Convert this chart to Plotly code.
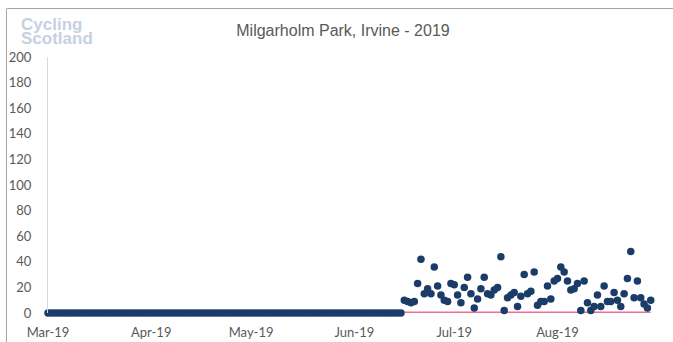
import pandas as pd
import plotly.graph_objects as go

# ---- data ----
zero_start = "2019-03-01"
zero_end = "2019-06-15"
count_start = "2019-06-16"
count_end = "2019-08-29"

zero_dates = pd.date_range(zero_start, zero_end, freq="D")
zero_values = [0] * len(zero_dates)

count_dates = pd.date_range(count_start, count_end, freq="D")
count_values = [10, 9, 8, 9, 23, 42, 15, 19, 15, 36,
                21, 14, 10, 9, 23, 22, 14, 8, 20, 28,
                15, 4, 11, 19, 28, 15, 14, 18, 20, 44,
                2, 12, 14, 16, 5, 13, 30, 15, 17, 32,
                6, 9, 9, 21, 11, 25, 27, 36, 32, 25,
                18, 19, 23, 2, 25, 8, 2, 5, 14, 5,
                21, 9, 9, 16, 10, 5, 15, 27, 48, 12,
                25, 12, 7, 4, 10]
baseline_values = [0] * len(count_dates)

tick_dates = ["2019-03-01", "2019-04-01", "2019-05-01",
              "2019-06-01", "2019-07-01", "2019-08-01"]
tick_labels = ["Mar-19", "Apr-19", "May-19", "Jun-19", "Jul-19", "Aug-19"]
y_ticks = list(range(0, 201, 20))

title_text = "Milgarholm Park, Irvine - 2019"

# ---- figure ----
W, H = 673, 342
L, R, T, B = 48, 13, 57, 29
pw, ph = W - L - R, H - T - B

def px_x(p):
    return (p - L) / pw

def px_y(p):
    return (H - B - p) / ph

navy = "#1B3C69"
pink = "#EF6C93"
grey_text = "#595959"

all_dates = list(zero_dates) + list(count_dates)
all_values = zero_values + count_values

fig = go.Figure()
fig.add_trace(go.Scatter(
    x=count_dates, y=baseline_values, mode="lines",
    line=dict(color=pink, width=3), hoverinfo="skip", showlegend=False,
    cliponaxis=False,
))
fig.add_trace(go.Scatter(
    x=all_dates, y=all_values, mode="markers",
    marker=dict(color=navy, size=7.5, line=dict(width=0)),
    showlegend=False, cliponaxis=False,
))

x0 = pd.Timestamp("2019-03-01")
x1 = x0 + pd.Timedelta(days=pw / 3.33)

fig.update_layout(
    width=W, height=H,
    margin=dict(l=L, r=R, t=T, b=B, pad=0, autoexpand=False),
    paper_bgcolor="white", plot_bgcolor="white",
    title=dict(text=title_text, x=343 / W, xanchor="center",
               y=1 - 30 / H, yanchor="middle",
               font=dict(family="Liberation Sans", size=16, color=grey_text)),
    xaxis=dict(
        range=[x0, x1], tickvals=tick_dates, ticktext=tick_labels,
        showgrid=False, zeroline=False, showline=False, ticks="",
        ticklabelstandoff=10, automargin=False,
        tickfont=dict(family="Lato", size=13, color=grey_text),
    ),
    yaxis=dict(
        range=[0, 200], tickvals=y_ticks, showgrid=False, zeroline=False,
        showline=True, linecolor="#D9D9D9", linewidth=1, ticks="",
        ticklabelstandoff=13, automargin=False,
        tickfont=dict(family="Lato", size=13, color=grey_text),
    ),
    shapes=[
        dict(type="line", xref="paper", yref="paper",
             x0=px_x(7), x1=px_x(W + 5), y0=px_y(8.5), y1=px_y(8.5),
             line=dict(color="#A6A6A6", width=1)),
        dict(type="line", xref="paper", yref="paper",
             x0=px_x(6.5), x1=px_x(6.5), y0=px_y(8.5), y1=px_y(H + 5),
             line=dict(color="#A6A6A6", width=1)),
    ],
    annotations=[
        dict(text="<b>Cycling</b>", xref="paper", yref="paper",
             x=px_x(19), y=px_y(24), xanchor="left", yanchor="middle",
             showarrow=False,
             font=dict(family="Liberation Sans", size=17, color="#C6D1DF")),
        dict(text="<b>Scotland</b>", xref="paper", yref="paper",
             x=px_x(19), y=px_y(38), xanchor="left", yanchor="middle",
             showarrow=False,
             font=dict(family="Liberation Sans", size=17, color="#C6D1DF")),
    ],
)

fig.write_html("out.html", config={"displayModeBar": False},
               post_script="document.body.style.margin='0';")
